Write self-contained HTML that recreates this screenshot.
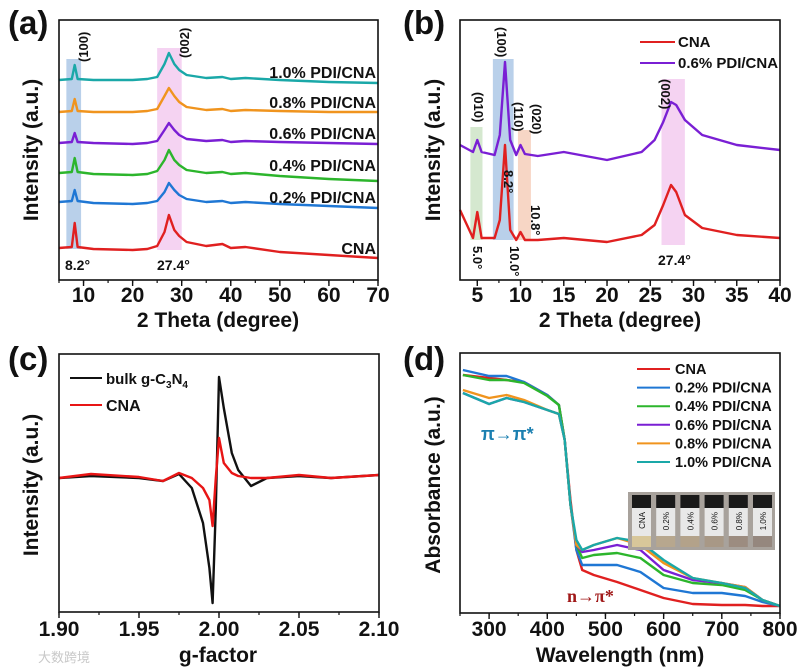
<!DOCTYPE html>
<html><head><meta charset="utf-8"><style>
body{margin:0;background:#fff}
svg{display:block;font-family:"Liberation Sans","Noto Sans CJK SC",sans-serif;font-weight:bold}
</style></head><body>
<svg id="s" width="802" height="672" viewBox="0 0 802 672"></svg>
<script>
// ---------- Panel (a) data ----------
const aAngles=[5,7.6,8.2,8.8,12,20,23,25,26.5,27.4,28.5,29.5,31,35,38.3,40,43,50,60,70];
const aCNA=[32,33,57,33,31,30,31,34,48,65,50,44,38,34,36,32,33,28,25,22];
const a02=[78,79,90,79,77,76,77,79,88,97,90,85,81,78,79,77,78,76,74,72];
const a04=[107,108,122,108,106,105,106,109,120,130,120,115,110,107,108,106,107,104,101,99];
const a06=[137,138,147,138,137,136,137,139,150,157,150,145,141,139,140,138,139,138,137,136];
const a08=[168,169,181,169,168,168,169,171,184,192,184,178,173,170,171,169,170,169,168,168];
const a10=[200,201,215,201,200,200,201,203,216,227,216,210,205,202,203,201,202,200,198,197];
const aTicks=[10,20,30,40,50,60,70];
// ---------- Panel (b) data ----------
const bAngles=[3,4.5,5,5.5,7,7.6,8.2,8.8,9.5,10,10.5,12,15,20,24,25.5,26.5,27.4,28,29,31,35,40];
const bPDI=[135,128,140,128,125,145,218,140,125,135,126,124,128,120,128,140,158,178,175,160,145,135,130];
const bCNA=[70,42,68,42,42,60,135,50,40,48,40,40,42,38,45,55,75,95,88,65,52,45,42];
const bTicks=[5,10,15,20,25,30,35,40];
// ---------- Panel (c) data ----------
const cG=[1.90,1.92,1.95,1.965,1.975,1.983,1.99,1.994,1.996,1.998,2.000,2.003,2.008,2.012,2.02,2.03,2.05,2.07,2.10];
const cBulk=[0,2,0,-3,4,-10,-45,-90,-125,-30,101,70,25,8,-8,0,2,0,3];
const cCNA=[0,4,1,-3,5,0,-10,-22,-48,0,40,15,5,2,0,0,3,0,3];
const cTicks=["1.90","1.95","2.00","2.05","2.10"];
// ---------- Panel (d) data ----------
const dWl=[255,300,330,360,400,420,430,440,450,460,480,520,560,600,650,700,740,770,800];
const dCNA=[238,235,233,231,218,208,173,113,63,43,38,31,23,15,9,8,8,7,7];
const d02=[243,237,237,231,218,208,173,108,63,48,48,48,41,25,20,20,17,11,7];
const d04=[238,233,233,230,217,208,173,108,68,55,58,60,55,38,30,28,23,13,7];
const d06=[220,209,215,211,203,199,173,108,68,61,63,68,63,43,33,30,26,13,7];
const d08=[223,215,218,213,203,199,173,108,68,63,68,75,68,50,35,30,26,13,7];
const d10=[220,209,215,211,203,199,173,108,73,63,68,75,71,53,35,30,25,13,7];
const dTicks=[300,400,500,600,700,800];

const S=document.getElementById('s');
const NS='http://www.w3.org/2000/svg';
function el(t,at,txt){const e=document.createElementNS(NS,t);for(const k in at)e.setAttribute(k,at[k]);if(txt!==undefined)e.textContent=txt;S.appendChild(e);return e;}
function lin(d0,d1,r0,r1){return v=>r0+(v-d0)/(d1-d0)*(r1-r0);}
function line(xs,ys,fx,fy,color,name){
  const p=xs.map((x,i)=>(i?'L':'M')+fx(x).toFixed(1)+','+fy(ys[i]).toFixed(1)).join('');
  const e=el('path',{d:p,fill:'none',stroke:color,'stroke-width':2.4,'stroke-linejoin':'round'});
  
  
}
function frame(x0,y0,x1,y1,name){
  const e=el('rect',{x:x0,y:y0,width:x1-x0,height:y1-y0,fill:'none',stroke:'#111','stroke-width':1.6});
  
  
}
function xticks(ticks,fx,y,minorStep,d0,d1,ly,lo){
  for(let v=d0;v<=d1+1e-9;v+=minorStep){if(v<lo)continue;el('line',{x1:fx(v),x2:fx(v),y1:y,y2:y+3,stroke:'#111','stroke-width':1.2});}
  ticks.forEach(t=>{const v=parseFloat(t);el('line',{x1:fx(v),x2:fx(v),y1:y,y2:y+6,stroke:'#111','stroke-width':1.4});
    const e=el('text',{x:fx(v),y:ly,'text-anchor':'middle','font-size':21,fill:'#111'},t);
    
    });
}
function txt(x,y,s,size,name,extra){const a=Object.assign({x:x,y:y,'font-size':size,fill:'#111'},extra||{});const e=el('text',a,s);
  
  return e;}
function rect(x,y,w,h,c,name){const e=el('rect',{x:x,y:y,width:w,height:h,fill:c});
  
  }
const C={cna:'#e02020',p2:'#1f77d4',p4:'#2cb52c',p6:'#7a1fd4',p8:'#f0941e',p10:'#1aa8a8'};

// ===== Panel a =====
{const fx=lin(5,70,59,378), fy=u=>280-u;
rect(fx(6.5),59,fx(9.5)-fx(6.5),190,'#b9d0ea','band-100');
rect(fx(25),48,fx(30)-fx(25),202,'#f5d3f2','band-002');
[[aCNA,C.cna,'cna'],[a02,C.p2,'0.2'],[a04,C.p4,'0.4'],[a06,C.p6,'0.6'],[a08,C.p8,'0.8'],[a10,C.p10,'1.0']].forEach(s=>line(aAngles,s[0],fx,fy,s[1],'xrd-line-'+s[2]));
frame(59,20,378,280,'plot-frame-a');
xticks(aTicks.map(String),fx,280,5,5,70,302,5);
txt(218,327,'2 Theta (degree)',21,'x-axis-title-a',{'text-anchor':'middle'});
txt(38,150,'Intensity (a.u.)',21,'y-axis-title-a',{'text-anchor':'middle',transform:'rotate(-90 38 150)'});
txt(8,34,'(a)',33,'panel-label-a');
txt(88,62,'(100)',13,'peak-label-100',{transform:'rotate(-90 88 62)'});
txt(189,58,'(002)',13,'peak-label-002',{transform:'rotate(-90 189 58)'});
txt(65,270,'8.2°',14,'angle-label-8.2');txt(157,270,'27.4°',14,'angle-label-27.4');
[['1.0% PDI/CNA',78],['0.8% PDI/CNA',108],['0.6% PDI/CNA',139],['0.4% PDI/CNA',171],['0.2% PDI/CNA',203],['CNA',254]].forEach(l=>txt(376,l[1],l[0],16,'series-label',{'text-anchor':'end'}));
}
// ===== Panel b =====
{const fx=lin(3,40,460,780), fy=u=>280-u;
rect(fx(4.2),127,fx(5.6)-fx(4.2),113,'#d5e8cf','band-010');
rect(fx(6.8),59,fx(9.2)-fx(6.8),181,'#b9d0ea','band-100-b');
rect(fx(9.7),130,fx(11.2)-fx(9.7),110,'#f7d6c5','band-020');
rect(fx(26.3),79,fx(29)-fx(26.3),166,'#f5d3f2','band-002-b');
line(bAngles,bPDI,fx,fy,C.p6,'xrd-line-0.6');
line(bAngles,bCNA,fx,fy,C.cna,'xrd-line-cna');
frame(460,20,780,280,'plot-frame-b');
xticks(bTicks.map(String),fx,280,2.5,2.5,40,302,3);
txt(620,327,'2 Theta (degree)',21,'x-axis-title-b',{'text-anchor':'middle'});
txt(440,150,'Intensity (a.u.)',21,'y-axis-title-b',{'text-anchor':'middle',transform:'rotate(-90 440 150)'});
txt(403,34,'(b)',33,'panel-label-b');
const rl=(x,y,s,n)=>txt(x,y,s,13,n,{transform:'rotate(90 '+x+' '+y+')'});
rl(474,92,'(010)','peak-label-010');rl(497,27,'(100)','peak-label-100-b');
rl(514,102,'(110)','peak-label-110');rl(532,104,'(020)','peak-label-020');rl(661,79,'(002)','peak-label-002-b');
rl(504,170,'8.2°','angle-8.2-b');rl(531,205,'10.8°','angle-10.8');rl(473,246,'5.0°','angle-5.0');rl(510,246,'10.0°','angle-10.0');
txt(658,265,'27.4°',14,'angle-27.4-b');
el('line',{x1:640,x2:675,y1:42,y2:42,stroke:C.cna,'stroke-width':2});
el('line',{x1:640,x2:675,y1:63,y2:63,stroke:C.p6,'stroke-width':2});
txt(678,47,'CNA',15,'legend-cna-b');txt(678,68,'0.6% PDI/CNA',15,'legend-pdi-b');
}
// ===== Panel c =====
{const fx=lin(1.90,2.10,59,379), fy=u=>478-u;
line(cG,cBulk,fx,fy,'#111','epr-line-bulk');
line(cG,cCNA,fx,fy,'#e81515','epr-line-cna');
frame(59,354,379,612,'plot-frame-c');
xticks(cTicks,fx,612,0.025,1.90,2.10,636,1.9);
txt(218,662,'g-factor',21,'x-axis-title-c',{'text-anchor':'middle'});
txt(38,485,'Intensity (a.u.)',21,'y-axis-title-c',{'text-anchor':'middle',transform:'rotate(-90 38 485)'});
txt(8,370,'(c)',33,'panel-label-c');
el('line',{x1:70,x2:102,y1:378,y2:378,stroke:'#111','stroke-width':2});
el('line',{x1:70,x2:102,y1:405,y2:405,stroke:'#e81515','stroke-width':2});
const t=txt(106,384,'bulk g-C',15,'legend-bulk');
const s1=document.createElementNS(NS,'tspan');s1.setAttribute('font-size','10');s1.setAttribute('dy','4');s1.textContent='3';t.appendChild(s1);
const s2=document.createElementNS(NS,'tspan');s2.setAttribute('dy','-4');s2.textContent='N';t.appendChild(s2);
const s3=document.createElementNS(NS,'tspan');s3.setAttribute('font-size','10');s3.setAttribute('dy','4');s3.textContent='4';t.appendChild(s3);
txt(106,411,'CNA',16,'legend-cna-c');
txt(38,662,'大数跨境',13,'watermark',{fill:'#c8c8c8','font-weight':'normal'});
}
// ===== Panel d =====
{const fx=lin(250,800,460,780), fy=u=>613-u;
[[dCNA,C.cna,'cna'],[d02,C.p2,'0.2'],[d04,C.p4,'0.4'],[d06,C.p6,'0.6'],[d08,C.p8,'0.8'],[d10,C.p10,'1.0']].forEach(s=>line(dWl,s[0],fx,fy,s[1],'uv-line-'+s[2]));
frame(460,353,780,613,'plot-frame-d');
xticks(dTicks.map(String),fx,613,50,250,800,636,250);
txt(620,662,'Wavelength (nm)',21,'x-axis-title-d',{'text-anchor':'middle'});
txt(440,485,'Absorbance (a.u.)',21,'y-axis-title-d',{'text-anchor':'middle',transform:'rotate(-90 440 485)'});
txt(403,370,'(d)',33,'panel-label-d');
[['CNA',C.cna],['0.2% PDI/CNA',C.p2],['0.4% PDI/CNA',C.p4],['0.6% PDI/CNA',C.p6],['0.8% PDI/CNA',C.p8],['1.0% PDI/CNA',C.p10]].forEach((l,i)=>{
  const y=369+i*18.6;
  el('line',{x1:637,x2:670,y1:y,y2:y,stroke:l[1],'stroke-width':2});
  txt(675,y+5,l[0],14.5,'legend-entry-d');});
txt(481,440,'π→π*',18,'label-pi-pi',{fill:'#1a7fb0'});
txt(567,602,'n→π*',18,'label-n-pi',{fill:'#a01818','font-family':'Liberation Serif, serif'});
rect(628,492,147,58,'#a8a29c','inset-photo');
const vl=['CNA','0.2%','0.4%','0.6%','0.8%','1.0%'];
const vc=['#d8c79a','#b7a78e','#b3a28a','#a89886','#9c8c80','#95877e'];
vl.forEach((v,i)=>{const x=632+i*24.2;
  rect(x,495,19,13,'#1a1a1a','vial-cap');
  rect(x,508,19,28,'#e8e8e8','vial-body');
  rect(x,536,19,11,vc[i],'vial-powder');
  txt(x+13,512,v,8,'vial-label',{transform:'rotate(-90 '+(x+13)+' 512)','text-anchor':'end','font-weight':'normal'});});
}
</script>
</body></html>
